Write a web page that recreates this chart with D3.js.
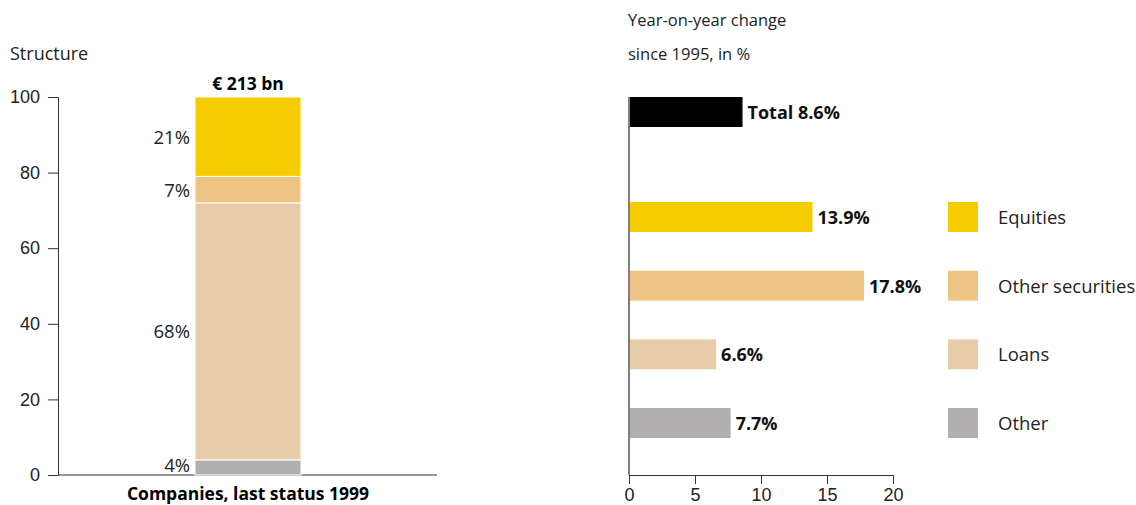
<!DOCTYPE html>
<html>
<head>
<meta charset="utf-8">
<script src="https://cdn.jsdelivr.net/npm/d3@7"></script>
<style>
  body { margin: 0; background: #fff; }
  svg { font-family: "Open Sans", "Noto Sans", sans-serif; }
  .tick text { font-size: 18px; fill: #222; }
</style>
</head>
<body>
<svg id="chart" width="1136" height="505"></svg>
<script>
// structure (left stacked bar), bottom to top
const structCats = ['Other', 'Loans', 'Other securities', 'Equities'];
const structShare = [4, 68, 7, 21];
// year-on-year change since 1995 (right)
const changeCats = ['Total', 'Equities', 'Other securities', 'Loans', 'Other'];
const changeVals = [8.6, 13.9, 17.8, 6.6, 7.7];
const yTicks = [0, 20, 40, 60, 80, 100];
const xTicks = [0, 5, 10, 15, 20];

const colors = {
  'Total': '#000000',
  'Equities': '#f5cc00',
  'Other securities': '#edc481',
  'Loans': '#e7cca8',
  'Other': '#b1afb0'
};

const svg = d3.select('#chart');

// ---- left chart ----
const y = d3.scaleLinear().domain([0, 100]).range([475, 97]);
const left = svg.append('g');

left.append('text').attr('x', 10).attr('y', 60)
  .attr('font-size', 18).attr('fill', '#222').text('Structure');

left.append('g')
  .attr('transform', 'translate(58,0)')
  .call(d3.axisLeft(y).tickValues(yTicks).tickSize(10).tickPadding(8))
  .call(g => g.select('.domain').attr('stroke', '#333'))
  .call(g => g.selectAll('.tick line').attr('stroke', '#333'))
  .call(g => g.selectAll('.tick').filter(d => d === 0).select('line').remove());

left.append('line').attr('x1', 58).attr('x2', 437)
  .attr('y1', y(0)).attr('y2', y(0)).attr('stroke', '#333');

const bx = 195, bw = 106;
let acc = 0;
const stack = structShare.map((v, i) => {
  const s = { cat: structCats[i], v: v, y0: acc, y1: acc + v };
  acc += v;
  return s;
});

left.selectAll('.seg').data(stack).enter().append('rect')
  .attr('x', bx).attr('width', bw)
  .attr('y', d => y(d.y1))
  .attr('height', d => y(d.y0) - y(d.y1))
  .attr('fill', d => colors[d.cat])
  .attr('stroke', '#fff').attr('stroke-width', 1);

left.selectAll('.seglab').data(stack).enter().append('text')
  .attr('x', bx - 5)
  .attr('y', d => d.cat === 'Other' ? y(d.y1) + 12 : (y(d.y0) + y(d.y1)) / 2 + 7)
  .attr('text-anchor', 'end').attr('font-size', 18.5).attr('fill', '#222')
  .text(d => d.v + '%');

left.append('text').attr('x', bx + bw / 2).attr('y', 90)
  .attr('text-anchor', 'middle').attr('font-size', 17.5).attr('font-weight', 'bold')
  .text('€ 213 bn');

left.append('text').attr('x', bx + bw / 2).attr('y', 500)
  .attr('text-anchor', 'middle').attr('font-size', 17.5).attr('font-weight', 'bold')
  .text('Companies, last status 1999');

// ---- right chart ----
const x = d3.scaleLinear().domain([0, 20]).range([629, 893]);
const rowY = d3.scalePoint().domain(changeCats.slice(1)).range([217, 423]);
const cy = c => c === 'Total' ? 112 : rowY(c);
const bh = 30;
const right = svg.append('g');

right.append('text').attr('x', 628).attr('y', 26)
  .attr('font-size', 16.5).attr('fill', '#222').text('Year-on-year change');
right.append('text').attr('x', 628).attr('y', 60)
  .attr('font-size', 16.5).attr('fill', '#222').text('since 1995, in %');

right.append('line').attr('x1', 629).attr('x2', 629)
  .attr('y1', 97).attr('y2', 475).attr('stroke', '#555').attr('stroke-width', 1.5);

right.append('g')
  .attr('transform', 'translate(0,475)')
  .call(d3.axisBottom(x).tickValues(xTicks).tickSize(9).tickPadding(4))
  .call(g => g.select('.domain').attr('stroke', '#333'))
  .call(g => g.selectAll('.tick line').attr('stroke', '#333'));

right.selectAll('.bar').data(changeCats).enter().append('rect')
  .attr('x', x(0) + 1)
  .attr('y', d => cy(d) - bh / 2)
  .attr('width', (d, i) => x(changeVals[i]) - x(0) - 1)
  .attr('height', bh)
  .attr('fill', d => colors[d]);

right.selectAll('.barlab').data(changeCats).enter().append('text')
  .attr('x', (d, i) => x(changeVals[i]) + 5)
  .attr('y', d => cy(d) + 7)
  .attr('font-size', 18).attr('font-weight', 'bold').attr('fill', '#111')
  .text((d, i) => (d === 'Total' ? 'Total ' : '') + changeVals[i].toFixed(1) + '%');

// legend
const legCats = changeCats.slice(1);
right.selectAll('.leg').data(legCats).enter().append('rect')
  .attr('x', 948).attr('y', d => rowY(d) - 15)
  .attr('width', 30).attr('height', 30)
  .attr('fill', d => colors[d]);
right.selectAll('.legtxt').data(legCats).enter().append('text')
  .attr('x', 998).attr('y', d => rowY(d) + 7)
  .attr('font-size', 18.5).attr('fill', '#222')
  .text(d => d);
</script>
</body>
</html>
